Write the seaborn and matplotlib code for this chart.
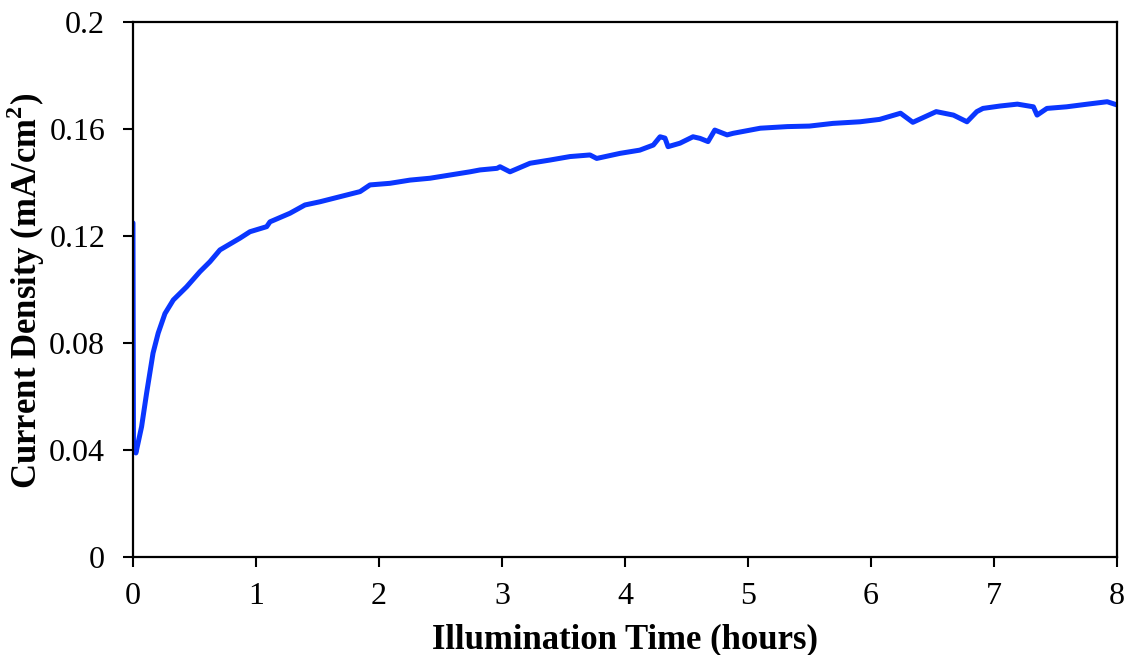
import matplotlib
matplotlib.use("Agg")
import matplotlib.pyplot as plt
import seaborn as sns
import pandas as pd

# Illumination time (hours) and current density (mA/cm^2)
time_h = [0.0, 0.004, 0.024, 0.07, 0.111, 0.163, 0.205, 0.26, 0.328, 0.436,
          0.545, 0.626, 0.707, 0.87, 0.951, 1.087, 1.114, 1.276, 1.398, 1.52,
          1.683, 1.846, 1.927, 2.089, 2.252, 2.415, 2.577, 2.74, 2.821, 2.96,
          2.984, 3.065, 3.228, 3.39, 3.553, 3.715, 3.77, 3.96, 4.12, 4.23,
          4.285, 4.325, 4.35, 4.447, 4.553, 4.61, 4.675, 4.73, 4.83, 4.88,
          5.10, 5.32, 5.50, 5.69, 5.91, 6.07, 6.24, 6.34, 6.53, 6.67,
          6.78, 6.86, 6.91, 7.05, 7.19, 7.32, 7.35, 7.43, 7.59, 7.76,
          7.92, 8.0]
current = [0.1249, 0.042, 0.0389, 0.0487, 0.0613, 0.0762, 0.0837, 0.091, 0.0961, 0.101,
           0.1067, 0.1104, 0.1148, 0.1192, 0.1216, 0.1235, 0.1253, 0.1285, 0.1316, 0.1328,
           0.1347, 0.1366, 0.1391, 0.1397, 0.1409, 0.1416, 0.1428, 0.1440, 0.1447, 0.1453,
           0.1459, 0.1440, 0.1472, 0.1484, 0.1497, 0.1503, 0.1490, 0.1509, 0.1521, 0.1540,
           0.1571, 0.1566, 0.1534, 0.1547, 0.1571, 0.1565, 0.1553, 0.1596, 0.1578, 0.1584,
           0.1603, 0.1609, 0.1611, 0.1621, 0.1627, 0.1636, 0.1659, 0.1625, 0.1665, 0.1652,
           0.1627, 0.1665, 0.1677, 0.1686, 0.1693, 0.1683, 0.1652, 0.1677, 0.1683, 0.1693,
           0.1702, 0.1690]

x_ticks = [0, 1, 2, 3, 4, 5, 6, 7, 8]
y_ticks = [0, 0.04, 0.08, 0.12, 0.16, 0.2]
y_tick_labels = ["0", "0.04", "0.08", "0.12", "0.16", "0.2"]

df = pd.DataFrame({"time": time_h, "current": current})

sns.set_style("ticks")
plt.rcParams["font.family"] = ["Liberation Serif", "DejaVu Serif"]
plt.rcParams["mathtext.fontset"] = "custom"
plt.rcParams["mathtext.rm"] = "Liberation Serif"
plt.rcParams["mathtext.bf"] = "Liberation Serif:bold"
plt.rcParams["text.color"] = "black"
plt.rcParams["axes.labelcolor"] = "black"
plt.rcParams["xtick.color"] = "black"
plt.rcParams["ytick.color"] = "black"

fig = plt.figure(figsize=(11.24, 6.55), dpi=100)
ax = fig.add_axes([0.1183, 0.1496, 0.8755, 0.8168])

sns.lineplot(data=df, x="time", y="current", ax=ax, color="#0a36ff",
             linewidth=3.6, sort=False, estimator=None)

ax.set_xlim(0, 8)
ax.set_ylim(0, 0.2)
ax.set_xticks(x_ticks)
ax.set_xticklabels([str(t) for t in x_ticks])
ax.set_yticks(y_ticks)
ax.set_yticklabels(y_tick_labels)

for s in ax.spines.values():
    s.set_visible(True)
    s.set_linewidth(1.6)
    s.set_color("black")

ax.tick_params(direction="out", length=7, width=1.5, labelsize=23, colors="black")
ax.tick_params(axis="x", pad=11)
ax.tick_params(axis="y", pad=13)

ax.set_xlabel("Illumination Time (hours)", fontsize=25, fontweight="bold", labelpad=9)
ax.set_ylabel(r"Current Density (mA/cm$^{\mathbf{2}}$)", fontsize=25, fontweight="bold")
ax.yaxis.set_label_coords(-0.087, 0.497)

fig.savefig("out.png", dpi=100)
